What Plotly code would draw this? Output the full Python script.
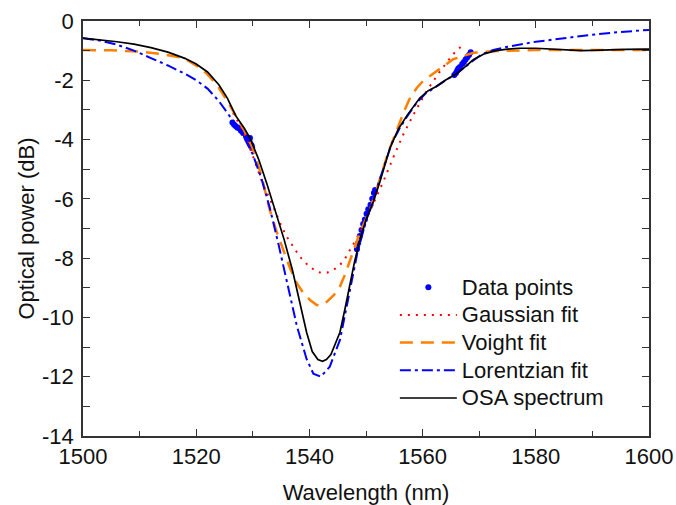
import plotly.graph_objects as go

# ---------------- data ----------------
osa_wl = [1500, 1503, 1506, 1509, 1512, 1515, 1518, 1520, 1522, 1524, 1525.5, 1527, 1528.5,
          1529.5, 1531, 1532.5, 1534, 1535.5, 1537, 1538.5, 1539.5, 1540.5, 1541.5, 1542.3,
          1543, 1543.8, 1544.6, 1545.4, 1546.3, 1547.2, 1548, 1548.9, 1550, 1551.3, 1552.5,
          1554.2, 1555.7, 1557.2, 1558.5, 1559.5, 1561, 1562.5, 1564, 1566, 1567.5, 1569,
          1571, 1573, 1575, 1577, 1580, 1583, 1586, 1588, 1590, 1593, 1596, 1600]
osa_db = [-0.58, -0.63, -0.70, -0.78, -0.90, -1.05, -1.26, -1.45, -1.72, -2.15, -2.6, -3.2, -3.62,
          -3.95, -4.65, -5.5, -6.45, -7.35, -8.4, -9.6, -10.5, -11.15, -11.42, -11.48,
          -11.42, -11.25, -10.9, -10.5, -9.7, -8.85, -8.1, -7.4, -6.7, -6.1, -5.4,
          -4.3, -3.65, -3.2, -2.85, -2.6, -2.35, -2.2, -2.0, -1.78, -1.55, -1.3,
          -1.1, -1.0, -0.95, -0.92, -0.92, -0.95, -0.98, -1.0, -0.99, -0.97, -0.96, -0.95]

lor_wl = [1500, 1503, 1506, 1509, 1512, 1515, 1518, 1520, 1522, 1524, 1525.5, 1527, 1528.5,
          1530, 1531.5, 1533, 1534.5, 1536, 1537.8, 1539.5, 1540.7, 1542, 1543.6, 1545.4,
          1547, 1548.5, 1550, 1551.5, 1553, 1554.5, 1556, 1557.5, 1559, 1560.5, 1562.5,
          1564.5, 1566.5, 1568.5, 1570.5, 1572.5, 1575, 1580, 1585, 1590, 1595, 1600]
lor_db = [-0.58, -0.66, -0.80, -1.0, -1.25, -1.5, -1.78, -2.0, -2.28, -2.7, -3.1, -3.5, -3.95,
          -4.5, -5.3, -6.3, -7.5, -8.8, -10.3, -11.4, -11.9, -12.0, -11.66, -10.76,
          -9.2, -7.8, -6.75, -5.9, -5.0, -4.15, -3.6, -3.15, -2.75, -2.45, -2.2,
          -1.95, -1.7, -1.4, -1.12, -0.98, -0.87, -0.70, -0.57, -0.46, -0.37, -0.30]

voi_wl = [1500, 1505, 1510, 1514, 1517.7, 1520.6, 1522, 1523.6, 1525.5, 1527, 1528.5, 1530,
          1531.5, 1533, 1534.2, 1535.4, 1536.6, 1537.8, 1539, 1540.1, 1541.3, 1541.8, 1543.1,
          1544.3, 1545.4, 1546.3, 1547.2, 1548.9, 1550.7, 1552.5, 1554, 1555.4, 1556.6,
          1557.8, 1559, 1560.1, 1562.5, 1565.4, 1569, 1573, 1580, 1600]
voi_db = [-0.98, -0.99, -1.03, -1.12, -1.24, -1.57, -1.8, -2.14, -2.7, -3.2, -3.7, -4.3,
          -5.2, -6.38, -7.1, -7.73, -8.35, -8.85, -9.2, -9.41, -9.58, -9.6, -9.47,
          -9.25, -8.96, -8.55, -8.06, -7.15, -6.38, -5.3, -4.4, -3.71, -3.1,
          -2.59, -2.25, -2.02, -1.69, -1.29, -1.07, -1.01, -0.98, -0.98]

gau_wl = [1526.5, 1528.3, 1530, 1531.8, 1533.6, 1535, 1536, 1537.2, 1538.3, 1539.8, 1541.3,
          1542.3, 1543.1, 1544.2, 1545.1, 1546.2, 1547.2, 1548.9, 1550, 1551.3, 1553.1,
          1554.8, 1556.6, 1558.4, 1560.7, 1563.1, 1565.4, 1566.9]
gau_db = [-3.1, -3.71, -4.55, -5.51, -6.25, -6.9, -7.28, -7.65, -7.95, -8.25, -8.46,
          -8.5, -8.49, -8.4, -8.29, -8.05, -7.73, -7.15, -6.7, -6.15, -5.40,
          -4.61, -3.82, -3.15, -2.36, -1.69, -1.12, -0.84]

pts_wl = [1526.4, 1526.7, 1527.0, 1527.3, 1527.6, 1527.9, 1528.3, 1528.8, 1529.1, 1529.4,
          1529.5, 1529.6, 1529.8, 1529.9,
          1548.4, 1548.6, 1548.9, 1549.2, 1549.5, 1549.8, 1550.1, 1550.4, 1550.8, 1551.1,
          1551.4, 1551.6,
          1565.6, 1565.9, 1566.1, 1566.3, 1566.6, 1567.0, 1567.3, 1567.6, 1567.9, 1568.2, 1568.5]
pts_db = [-3.42, -3.5, -3.55, -3.6, -3.62, -3.7, -3.78, -3.9, -3.98, -4.05,
          -3.95, -4.15, -4.2, -4.28,
          -7.7, -7.5, -7.25, -7.05, -6.85, -6.7, -6.5, -6.35, -6.2, -6.0,
          -5.8, -5.7,
          -1.82, -1.75, -1.68, -1.6, -1.55, -1.45, -1.38, -1.3, -1.22, -1.15, -1.05]

series_names = ["Data points", "Gaussian fit", "Voight fit", "Lorentzian fit", "OSA spectrum"]

x_ticks = [1500, 1520, 1540, 1560, 1580, 1600]
y_ticks = [0, -2, -4, -6, -8, -10, -12, -14]
y_tick_text = ["0", "-2", "-4", "-6", "-8", "-10", "-12", "-14"]

# ---------------- figure ----------------
FONT = "Liberation Sans, Arial, sans-serif"


def leg(name):
    # legend text drawn at 22px while legend rows are spaced as for a 19px font
    return '<span style="font-size:22px">' + name + '</span>'


fig = go.Figure()
fig.add_trace(go.Scatter(x=pts_wl, y=pts_db, mode="markers", name=leg(series_names[0]),
                         marker=dict(color="#0000FF", size=6)))
fig.add_trace(go.Scatter(x=gau_wl, y=gau_db, mode="lines", name=leg(series_names[1]),
                         line=dict(color="#FF0000", width=2, dash="2px,6px")))
fig.add_trace(go.Scatter(x=voi_wl, y=voi_db, mode="lines", name=leg(series_names[2]),
                         line=dict(color="#FF8000", width=2.5, dash="13px,8px")))
fig.add_trace(go.Scatter(x=lor_wl, y=lor_db, mode="lines", name=leg(series_names[3]),
                         line=dict(color="#0000FF", width=2, dash="11px,4px,3px,4px")))
fig.add_trace(go.Scatter(x=osa_wl, y=osa_db, mode="lines", name=leg(series_names[4]),
                         line=dict(color="#000000", width=1.7)))

axis_common = dict(
    showline=True, linecolor="#333333", linewidth=1.5, mirror="allticks",
    ticks="inside", ticklen=7, tickwidth=1.3, tickcolor="#333333",
    showgrid=False, zeroline=False, automargin=False,
    tickfont=dict(family=FONT, size=22, color="#111111"),
    title_font=dict(family=FONT, size=22, color="#111111"),
)

fig.update_xaxes(
    range=[1500, 1600], tickmode="array", tickvals=x_ticks,
    minor=dict(dtick=10, ticks="inside", ticklen=5, tickwidth=1.2, tickcolor="#333333"),
    title_text="Wavelength (nm)", title_standoff=18, ticklabelstandoff=0,
    **axis_common)
fig.update_yaxes(
    range=[-14, 0], tickmode="array", tickvals=y_ticks, ticktext=y_tick_text,
    minor=dict(dtick=1, ticks="inside", ticklen=7, tickwidth=1.2, tickcolor="#333333"),
    title_text="Optical power (dB)", title_standoff=1, ticklabelstandoff=3,
    **axis_common)

fig.update_layout(
    width=676, height=505,
    margin=dict(l=83, r=27, t=21, b=69),
    paper_bgcolor="white", plot_bgcolor="white",
    font=dict(family=FONT, size=22, color="#111111"),
    legend=dict(x=0.551, y=0.404, xanchor="left", yanchor="top",
                bgcolor="rgba(0,0,0,0)", borderwidth=0, itemwidth=57,
                font=dict(family=FONT, size=19, color="#111111"),
                tracegroupgap=0),
    showlegend=True,
)

fig.write_html("out.html", config={"displayModeBar": False},
               post_script="document.body.style.margin='0';document.body.style.overflow='hidden';")
